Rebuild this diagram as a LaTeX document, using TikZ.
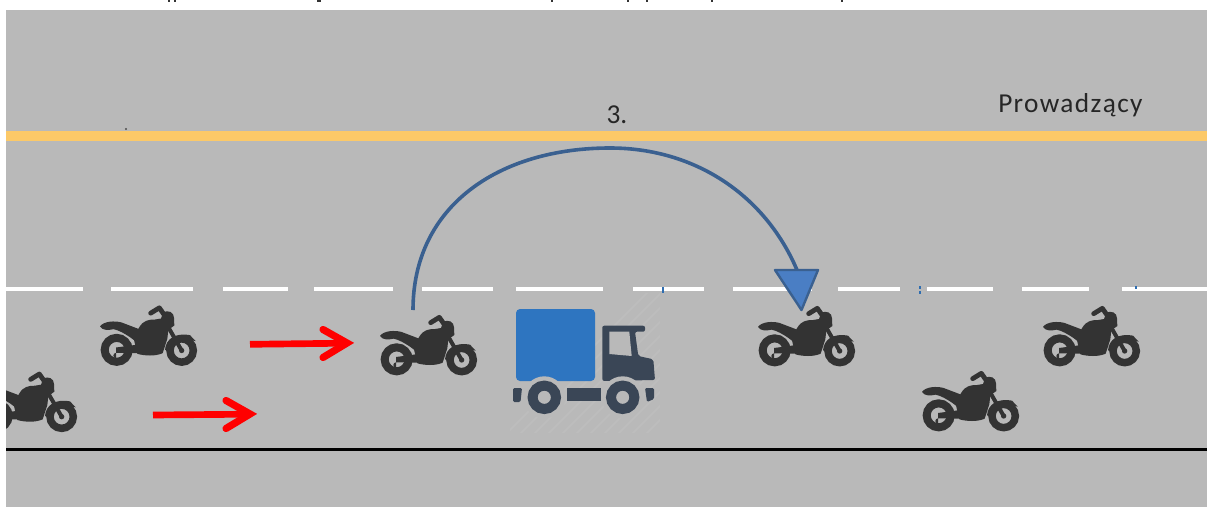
\documentclass[tikz,border=0pt]{standalone}
\usepackage{fontspec}
\setmainfont{Carlito}
\definecolor{road}{HTML}{B9B9B9}
\definecolor{lane}{HTML}{FCC968}
\definecolor{bikecol}{HTML}{333333}
\definecolor{boxblue}{HTML}{2E75C0}
\definecolor{cabcol}{HTML}{3A4656}
\definecolor{arcline}{HTML}{3A6090}
\definecolor{arcfill}{HTML}{4A7EC4}
\definecolor{hatch}{HTML}{BDBDBD}
\definecolor{speck}{HTML}{2F6DB0}
\tikzset{
  dashseg/.style={draw=white,line width=3.6pt},
  redshaft/.style={draw=red,line width=5pt},
  redhead/.style={draw=red,line width=5.4pt,line join=miter,line cap=round},
  labeltext/.style={inner sep=0pt,text=black!85},
  bike/.pic={
    \begin{scope}[x=0.25pt,y=-0.25pt]
      % wheels
      \draw[bikecol,line width=6pt] (110,238) circle (36);
      \draw[bikecol,line width=5.6pt] (305,240) circle (35);
      \fill[bikecol] (305,240) circle (8);
      \fill[bikecol] (108,231) -- (175,222) -- (180,248) -- (108,247) arc (270:90:8) -- cycle;
      % spine to front hub
      \draw[bikecol,line width=3pt] (305,240) -- (262,165);
      % tail and rear fender
      \fill[bikecol] (60,168) .. controls (70,152) and (105,150) .. (125,156)
        -- (175,175) -- (170,215) -- (150,200) .. controls (135,190) and (115,178) .. (100,176)
        .. controls (85,180) and (68,180) .. (60,168) -- cycle;
      % body
      \fill[bikecol] (160,200) -- (178,170) .. controls (190,150) and (205,147) .. (225,147)
        -- (243,144) -- (250,125) .. controls (265,118) and (282,125) .. (282,142)
        -- (283,165) -- (265,178) -- (262,205) -- (248,248)
        .. controls (225,258) and (195,256) .. (172,250) -- (166,225) -- cycle;
      % handlebar
      \draw[bikecol,line width=3.6pt,line cap=round,line join=round] (212,128) -- (238,112) -- (252,132);
      % front fender
      \fill[bikecol] (255,238) .. controls (258,205) and (285,186) .. (330,194)
        -- (347,212) -- (312,204) .. controls (290,206) and (273,222) .. (268,243) -- cycle;
    \end{scope}
  }
}
\begin{document}
\begin{tikzpicture}[x=0.75pt,y=-0.75pt]
\useasboundingbox (0,0) rectangle (1207,507);
\fill[white] (0,0) rectangle (1207,507);
\fill[road] (6,10) rectangle (1207,507);
% cropped line of text at the top edge
\foreach \a/\b in {168/170,174/176,317/321,551/553,627/629,646/648,711/713,841/843}
  \fill[black!80] (\a,0) rectangle (\b,2);
% lane lines
\fill[lane] (6,131) rectangle (1207,141);
\fill[black] (5,447.5) rectangle (1207,450.5);
\coordinate (dotA) at (126,129);
\fill[black!70] (dotA) circle (1.2);
% dashes
\foreach \a/\b in {6/83,111/193,223/288,314/393,422/493,516/603,633/704,733/812,838/900,927/993,1022/1089,1122/1207}
  \draw[dashseg] (\a,289) -- (\b,289);
\foreach \p/\q in {663/288,663/291,920/287,920/292,1136/287}
  \fill[speck] (\p-1,\q-1.5) rectangle (\p+1,\q+1.5);
% hatch behind truck
\begin{scope}
  \clip (510,293) rectangle (660,432);
  \foreach \i in {0,14,...,300}
    \draw[hatch,line width=1.5pt] (500+\i,440) -- (650+\i,290);
\end{scope}
% truck
\fill[boxblue,rounded corners=3pt] (516,309) rectangle (595,381);
\fill[cabcol,rounded corners=1.5pt] (602.3,381) -- (602.3,325.7) -- (645,325.7) -- (645,331.7) -- (635,331.7)
  -- (638.3,356) -- (653.3,359.3) -- (655,380) -- cycle;
\fill[road] (609.3,331.7) -- (629.3,331.7) -- (631.7,356) -- (609.3,354) -- cycle;
\fill[road] (544.3,397.3) circle (21);
\fill[road] (622.7,397.3) circle (21);
\fill[cabcol,rounded corners=1pt] (513,388) -- (522,388) -- (520.5,402) -- (513,402) -- cycle;
\fill[cabcol] (566.5,388) rectangle (601,401);
\fill[cabcol,rounded corners=1pt] (645,388) -- (654,388) -- (654,399) -- (647,402) -- cycle;
\draw[cabcol,line width=7.5pt] (544.3,397.3) circle (11.7);
\draw[cabcol,line width=7.5pt] (622.7,397.3) circle (11.7);
% bikes
\pic at (360,280) {bike};
\pic at (80,270.5) {bike};
\pic at (-40,336.7) {bike};
\pic at (738,271) {bike};
\pic at (902,336) {bike};
\pic at (1023,271) {bike};
\fill[white] (0,10) rectangle (6,507);
% red arrows
\draw[redshaft] (250,344.3) -- (346,343.2);
\draw[redhead] (323,329.5) -- (347,343) -- (323,357.5);
\draw[redshaft] (153,415) -- (250,414.2);
\draw[redhead] (226,400.5) -- (250,414) -- (226,428.5);
% arc arrow
\coordinate (arcstart) at (413,310);
\coordinate (arcend) at (797,270);
\draw[arcline,line width=2.7pt] (arcstart) .. controls (413,205) and (500,148) .. (610,148) .. controls (695,148) and (765,195) .. (arcend);
\filldraw[fill=arcfill,draw=arcline,line width=1.8pt,line join=round] (775,270) -- (818,270) -- (801.5,310) -- cycle;
% labels
\node[labeltext,font=\fontsize{20.5pt}{24pt}\selectfont] (three) at (617,115) {3.};
\node[labeltext,font=\fontsize{20.5pt}{24pt}\selectfont,anchor=west] (lead) at (998,105) {\addfontfeature{LetterSpace=5}Prowadzący};
\end{tikzpicture}
\end{document}
